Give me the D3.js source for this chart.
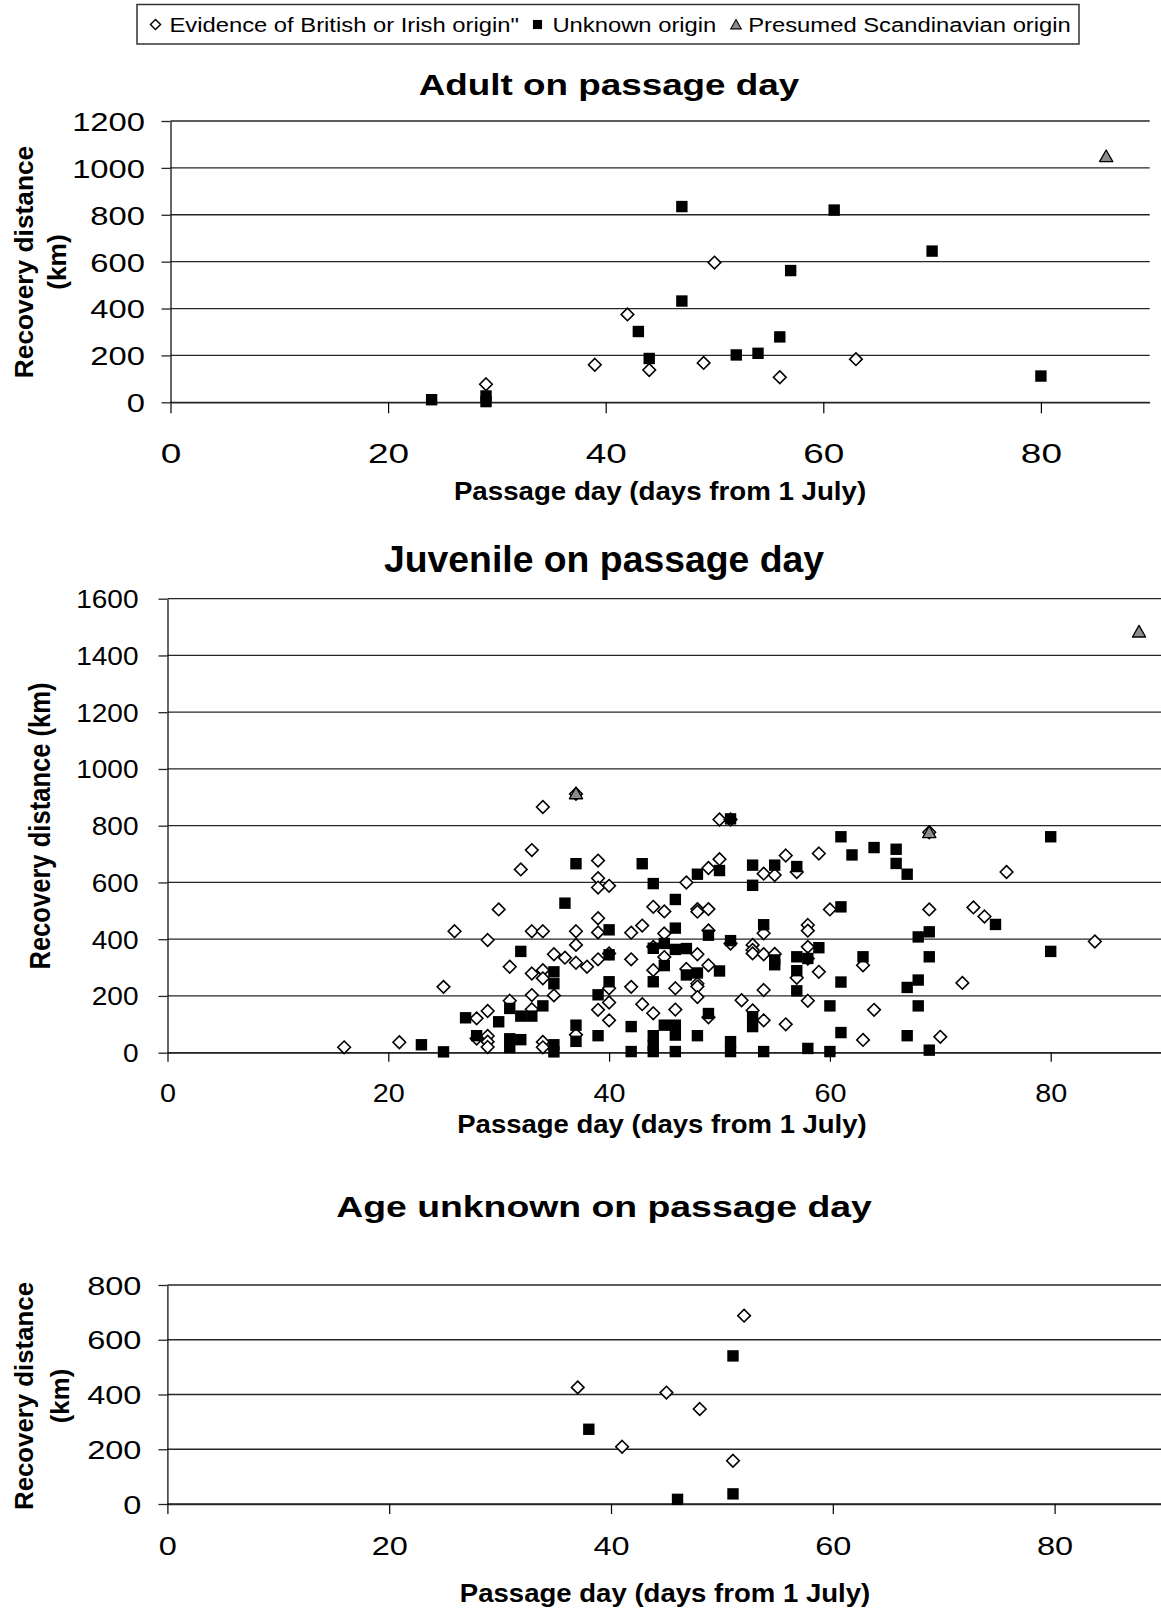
<!DOCTYPE html>
<html><head><meta charset="utf-8">
<script src="https://cdn.jsdelivr.net/npm/d3@7"></script>
<style>
html,body{margin:0;padding:0;background:#fff;}
svg{display:block;}
</style></head><body>
<svg id="c" width="1161" height="1611"></svg>
<script>
// ---------------- DATA ----------------
const legendLabels = ['Evidence of British or Irish origin"', 'Unknown origin', 'Presumed Scandinavian origin'];
const titles = ['Adult on passage day', 'Juvenile on passage day', 'Age unknown on passage day'];
const xTitle = 'Passage day (days from 1 July)';
const yTitle = 'Recovery distance (km)';
const xTicks = [0, 20, 40, 60, 80];
const adultYTicks = [0, 200, 400, 600, 800, 1000, 1200];
const juvYTicks = [0, 200, 400, 600, 800, 1000, 1200, 1400, 1600];
const unkYTicks = [0, 200, 400, 600, 800];

// [passage day, recovery distance km]
const adultBritish = [[29,77],[39,160],[42,375],[44,138],[49,168],[50,596],[56,107],[63,184]];
const adultUnknown = [[24,11],[29,27],[29,3],[43,302],[44,187],[47,835],[47,432],[52,202],[54,209],[56,279],[57,562],[61,820],[70,645],[80,112]];
const adultScand = [[86,1050]];

const juvBritish = [
 [16,19],[21,37],[25,232],[26,428],[28,121],[28,50],
 [29,397],[29,147],[29,59],[29,39],[29,20],
 [30,505],[31,303],[31,183],[32,646],
 [33,714],[33,428],[33,279],[33,203],[33,153],
 [34,866],[34,428],[34,291],[34,262],[34,38],[34,19],
 [35,347],[35,202],[36,335],
 [37,912],[37,428],[37,380],[37,317],[37,63],
 [38,303],
 [39,677],[39,615],[39,582],[39,474],[39,424],[39,329],[39,151],
 [40,588],[40,350],[40,227],[40,177],[40,114],
 [42,423],[42,329],[42,232],
 [43,448],[43,171],
 [44,514],[44,373],[44,291],[44,139],
 [45,498],[45,420],[45,337],
 [46,227],[46,152],
 [47,600],[47,295],
 [48,506],[48,497],[48,347],[48,243],[48,233],[48,196],
 [49,651],[49,506],[49,431],[49,308],[49,125],
 [50,682],[50,822],
 [51,822],[51,385],
 [52,185],
 [53,380],[53,362],[53,350],[53,149],
 [54,631],[54,421],[54,347],[54,221],[54,114],
 [55,626],[55,348],
 [56,695],[56,100],
 [57,637],[57,264],
 [58,450],[58,430],[58,373],[58,332],[58,183],
 [59,702],[59,285],
 [60,505],
 [63,308],[63,45],
 [64,151],
 [69,505],[69,777],
 [70,56],[72,246],[73,512],[74,480],[76,637],[84,392]
];
const juvUnknown = [
 [23,28],[25,3],[27,123],[28,60],[30,109],
 [31,156],[31,49],[31,18],
 [32,357],[32,129],[32,46],
 [33,129],[34,165],
 [35,285],[35,243],[35,28],[35,3],
 [36,527],
 [37,666],[37,97],[37,40],
 [39,204],[39,60],
 [40,433],[40,345],[40,250],
 [42,92],[42,4],
 [43,666],
 [44,596],[44,368],[44,250],[44,60],[44,26],[44,4],
 [45,385],[45,307],[45,97],
 [46,540],[46,439],[46,364],[46,97],[46,62],[46,4],
 [47,367],[47,274],
 [48,629],[48,281],[48,60],
 [49,414],[49,138],
 [50,642],[50,288],
 [51,824],[51,395],[51,39],[51,4],
 [53,661],[53,590],[53,127],[53,92],
 [54,451],[54,4],
 [55,661],[55,327],[55,310],
 [57,656],[57,338],[57,289],[57,218],
 [58,332],[58,15],
 [59,370],
 [60,165],[60,4],
 [61,761],[61,514],[61,249],[61,71],
 [62,697],[63,338],[64,723],
 [66,717],[66,667],
 [67,629],[67,230],[67,60],
 [68,408],[68,256],[68,165],
 [69,426],[69,338],[69,9],
 [75,452],
 [80,761],[80,357]
];
const juvScand = [[37,914],[69,777],[88,1484]];

const unkBritish = [[37,426],[41,209],[45,407],[48,347],[51,158],[52,688]];
const unkUnknown = [[38,273],[46,17],[51,37],[51,541]];
const unkScand = [];

// ---------------- LAYOUT / STYLE ----------------
const FONT = '"Liberation Sans", Arial, Helvetica, sans-serif';
const GRID = '#262626';
const svg = d3.select('#c').attr('font-family', FONT);

const SHAPES = {
  diamond: 'M0,-6.3L6.3,0L0,6.3L-6.3,0Z',
  square: 'M-5.7,-5.7H5.7V5.7H-5.7Z',
  triangle: 'M0,-6.2L6.6,5.4H-6.6Z'
};

function label(g, str, x, y, o) {
  const t = g.append('g')
    .attr('transform', `translate(${x},${y}) scale(${o.sx || 1},1)`)
    .append('text')
    .attr('text-anchor', o.anchor || 'middle')
    .attr('font-size', o.size)
    .attr('font-weight', o.weight || 'normal')
    .attr('fill', '#000')
    .text(str);
  if (o.rotate) t.attr('transform', `rotate(${o.rotate})`);
  return t;
}

function drawMarkers(g, data, shape, x, y) {
  const sel = g.append('g').selectAll('path').data(data).join('path')
    .attr('transform', d => `translate(${x(d[0])},${y(d[1])})`)
    .attr('d', SHAPES[shape]);
  if (shape === 'diamond') sel.attr('fill', '#fff').attr('stroke', '#000').attr('stroke-width', 1.6);
  else if (shape === 'square') sel.attr('fill', '#000');
  else sel.attr('fill', '#8c8c8c').attr('stroke', '#000').attr('stroke-width', 1.3).attr('stroke-linejoin', 'round');
}

// Legend
const lg = svg.append('g');
lg.append('rect').attr('x', 137).attr('y', 4.5).attr('width', 942).attr('height', 39.5)
  .attr('fill', '#fff').attr('stroke', '#333').attr('stroke-width', 1.5);
const legendItems = [
  {shape: 'diamond', mx: 155.5, tx: 169.4},
  {shape: 'square', mx: 537.5, tx: 552.4},
  {shape: 'triangle', mx: 736, tx: 748.2}
];
legendItems.forEach((it, i) => {
  const m = lg.append('path').attr('transform', `translate(${it.mx},24.5) scale(0.8)`).attr('d', SHAPES[it.shape]);
  if (it.shape === 'diamond') m.attr('fill', '#fff').attr('stroke', '#000').attr('stroke-width', 1.8);
  else if (it.shape === 'square') m.attr('fill', '#000');
  else m.attr('fill', '#8c8c8c').attr('stroke', '#000').attr('stroke-width', 1.4);
  label(lg, legendLabels[i], it.tx, 31.5, {size: 20, sx: 1.19, anchor: 'start'});
});

const charts = [
  {title: titles[0], british: adultBritish, unknown: adultUnknown, scand: adultScand, yTicks: adultYTicks, yMax: 1200,
   x0: 170.5, x1: 1149.7, y0: 402.3, y1: 121,
   titleX: 609, titleY: 95, titleSize: 29, titleSx: 1.27,
   yTickSize: 26, yTickSx: 1.26, yGap: 25.5,
   xTickSize: 28, xTickSx: 1.32, xTickBase: 60.7, xTickLen: 11,
   xTitleX: 660, xTitleY: 500, xTitleSize: 26, xTitleSx: 1.065,
   yTitleLines: ['Recovery distance', '(km)'], yTitleXs: [33, 66], yTitleY: 262, yTitleSize: 26.3, yTitleSx: 1},
  {title: titles[1], british: juvBritish, unknown: juvUnknown, scand: juvScand, yTicks: juvYTicks, yMax: 1600,
   x0: 167.5, x1: 1161.1, y0: 1052.7, y1: 598.7,
   titleX: 604, titleY: 572, titleSize: 37, titleSx: 1.01,
   yTickSize: 25, yTickSx: 1.12, yGap: 29,
   xTickSize: 25, xTickSx: 1.15, xTickBase: 49.5, xTickLen: 9,
   xTitleX: 662, xTitleY: 1133, xTitleSize: 25, xTitleSx: 1.1,
   yTitleLines: [yTitle], yTitleXs: [50], yTitleY: 826, yTitleSize: 25.6, yTitleSx: 1.12},
  {title: titles[2], british: unkBritish, unknown: unkUnknown, scand: unkScand, yTicks: unkYTicks, yMax: 800,
   x0: 167.4, x1: 1165.5, y0: 1504, y1: 1285,
   titleX: 604, titleY: 1216.7, titleSize: 30, titleSx: 1.246,
   yTickSize: 25.6, yTickSx: 1.27, yGap: 26,
   xTickSize: 25.6, xTickSx: 1.27, xTickBase: 51, xTickLen: 10,
   xTitleX: 665, xTitleY: 1602, xTitleSize: 26, xTitleSx: 1.06,
   yTitleLines: ['Recovery distance', '(km)'], yTitleXs: [33, 69], yTitleY: 1396, yTitleSize: 25.8, yTitleSx: 1}
];

charts.forEach(c => {
  const g = svg.append('g');
  const x = d3.scaleLinear().domain([0, 90]).range([c.x0, c.x1]);
  const y = d3.scaleLinear().domain([0, c.yMax]).range([c.y0, c.y1]);

  // gridlines
  g.append('g').selectAll('line').data(c.yTicks).join('line')
    .attr('x1', c.x0).attr('x2', c.x1)
    .attr('y1', d => y(d)).attr('y2', d => y(d))
    .attr('stroke', GRID).attr('stroke-width', 1.3);

  // y axis
  const gy = g.append('g').attr('transform', `translate(${c.x0},0)`)
    .call(d3.axisLeft(y).tickValues(c.yTicks).tickSize(9).tickSizeOuter(0).tickFormat(d3.format('d')));
  gy.attr('font-family', FONT);
  gy.select('.domain').attr('stroke', '#000').attr('stroke-width', 1.2);
  gy.selectAll('.tick line').attr('stroke', GRID).attr('stroke-width', 1.3);
  gy.selectAll('.tick text')
    .attr('font-size', c.yTickSize).attr('fill', '#000')
    .attr('x', -c.yGap / c.yTickSx).attr('dy', '0.36em')
    .attr('transform', `scale(${c.yTickSx},1)`);

  // x axis
  const gx = g.append('g').attr('transform', `translate(0,${c.y0})`)
    .call(d3.axisBottom(x).tickValues(xTicks).tickSize(c.xTickLen).tickSizeOuter(0).tickFormat(d3.format('d')));
  gx.attr('font-family', FONT);
  gx.select('.domain').attr('stroke', GRID).attr('stroke-width', 1.3);
  gx.selectAll('.tick line').attr('stroke', '#000').attr('stroke-width', 1.2);
  gx.selectAll('.tick text')
    .attr('font-size', c.xTickSize).attr('fill', '#000')
    .attr('y', c.xTickBase).attr('dy', null)
    .attr('transform', `scale(${c.xTickSx},1)`);

  // titles
  label(g, c.title, c.titleX, c.titleY, {size: c.titleSize, sx: c.titleSx, weight: 'bold'});
  label(g, xTitle, c.xTitleX, c.xTitleY, {size: c.xTitleSize, sx: c.xTitleSx, weight: 'bold'});
  c.yTitleLines.forEach((ln, i) => {
    label(g, ln, c.yTitleXs[i], c.yTitleY, {size: c.yTitleSize, sx: c.yTitleSx, weight: 'bold', rotate: -90});
  });

  // markers: series order British, Unknown, Scandinavian
  drawMarkers(g, c.british, 'diamond', x, y);
  drawMarkers(g, c.unknown, 'square', x, y);
  drawMarkers(g, c.scand, 'triangle', x, y);
});
</script>
</body></html>
